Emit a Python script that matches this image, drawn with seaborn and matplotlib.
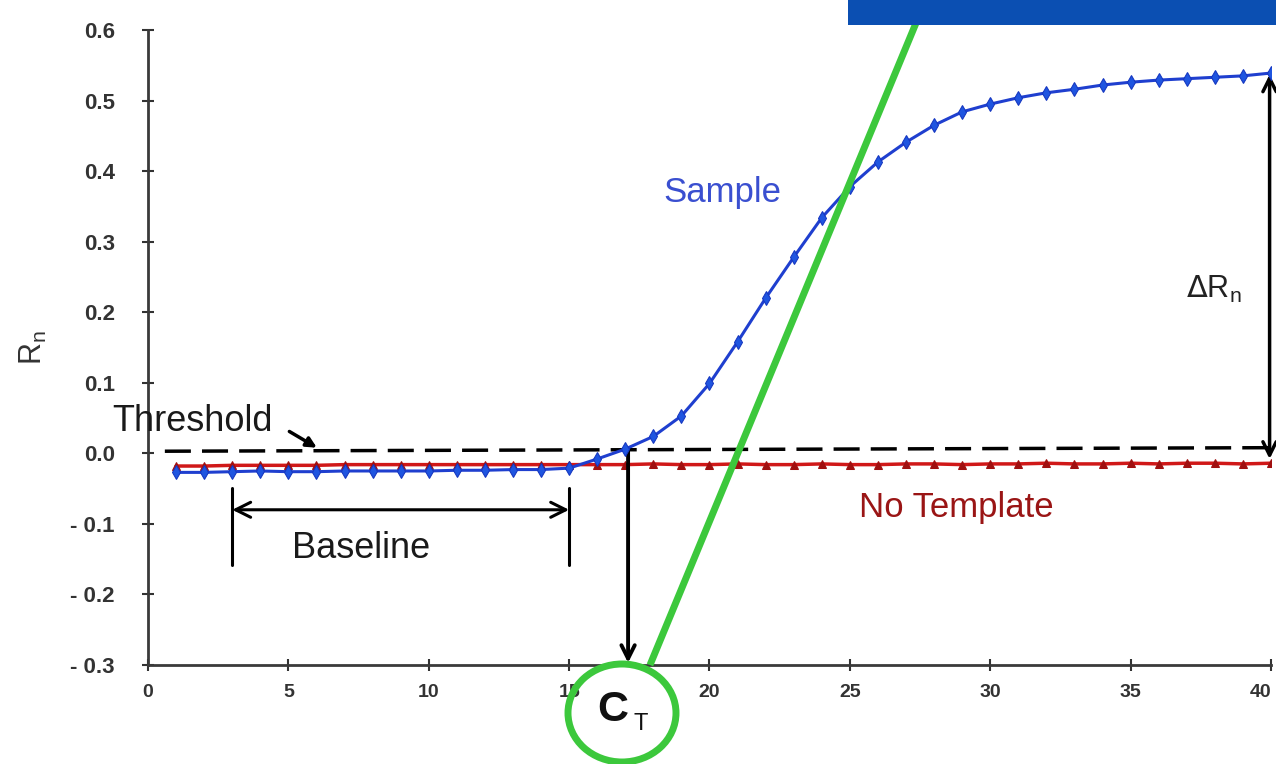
import matplotlib
matplotlib.use("Agg")
import matplotlib.pyplot as plt
import seaborn as sns
import pandas as pd
from matplotlib.patches import Ellipse, Rectangle

# ---------------- data ----------------
cycles = list(range(1, 41))
sample_rn = [-0.027, -0.027, -0.026, -0.025, -0.026, -0.026, -0.025, -0.025, -0.025, -0.025,
             -0.024, -0.024, -0.023, -0.023, -0.021, -0.008, 0.006, 0.024, 0.053, 0.099,
             0.158, 0.220, 0.278, 0.334, 0.378, 0.413, 0.441, 0.465, 0.484, 0.495,
             0.504, 0.511, 0.516, 0.522, 0.526, 0.529, 0.531, 0.533, 0.535, 0.539]
no_template_rn = [-0.018, -0.018, -0.017, -0.017, -0.017, -0.017, -0.016, -0.016, -0.016, -0.016,
                  -0.016, -0.016, -0.016, -0.016, -0.016, -0.016, -0.016, -0.015, -0.016, -0.016,
                  -0.015, -0.016, -0.016, -0.015, -0.016, -0.016, -0.015, -0.015, -0.016, -0.015,
                  -0.015, -0.014, -0.015, -0.015, -0.014, -0.015, -0.014, -0.014, -0.015, -0.014]
threshold_x = [0.6, 40]
threshold_y = [0.003, 0.008]
ct_cycle = 17.1
baseline_start, baseline_end = 3, 15
x_ticks = [0, 5, 10, 15, 20, 25, 30, 35, 40]
x_tick_labels = ["0", "5", "10", "15", "20", "25", "30", "35", "40"]
y_ticks = [-0.3, -0.2, -0.1, 0.0, 0.1, 0.2, 0.3, 0.4, 0.5, 0.6]
y_tick_labels = ["- 0.3", "- 0.2", "- 0.1", "0.0", "0.1", "0.2", "0.3", "0.4", "0.5", "0.6"]

# ---------------- style ----------------
sns.set_theme(style="white")
plt.rcParams["font.family"] = ["Liberation Sans", "DejaVu Sans"]

W, H = 1276, 764
fig = plt.figure(figsize=(W / 100, H / 100), dpi=100)
fig.patch.set_facecolor("white")
ax = fig.add_axes([148 / W, 1 - 665 / H, (1271 - 148) / W, (665 - 30) / H])
ax.set_facecolor("white")

GREEN = "#3cc83c"
BLUE_LINE = "#1f3fcf"
RED_LINE = "#d01818"

df_nt = pd.DataFrame({"cycle": cycles, "rn": no_template_rn})
df_s = pd.DataFrame({"cycle": cycles, "rn": sample_rn})

sns.lineplot(data=df_nt, x="cycle", y="rn", ax=ax, color=RED_LINE, linewidth=2.5,
             marker="^", markersize=5.5, markerfacecolor="#a01010", markeredgecolor="#a01010",
             zorder=3)
sns.lineplot(data=df_s, x="cycle", y="rn", ax=ax, color=BLUE_LINE, linewidth=2.2,
             marker="d", markersize=7, markerfacecolor="#1f55e0", markeredgecolor="#1536c0",
             zorder=4)

# threshold dashed line
ax.plot(threshold_x, threshold_y, color="black", linewidth=2.5, linestyle=(0, (7.5, 3.2)),
        zorder=2)

ax.set_xlim(0, 40)
ax.set_ylim(-0.3, 0.6)
ax.set_xticks(x_ticks)
ax.set_xticklabels(x_tick_labels, fontsize=14, fontweight="bold", color="#333333")
ax.get_xticklabels()[-1].set_horizontalalignment("right")
ax.set_yticks(y_ticks)
ax.set_yticklabels(y_tick_labels, fontsize=16, fontweight="bold", color="#333333")
ax.tick_params(axis="both", direction="inout", length=8, width=1.5, color="#333333",
               left=True, bottom=True)
ax.tick_params(axis="y", pad=20)
ax.tick_params(axis="x", pad=10)
ax.set_xlabel("")
ax.set_ylabel(r"R$_{\mathregular{n}}$", fontsize=22, color="#333333")
ax.yaxis.set_label_coords(-0.088, 0.5)
for s in ["top", "right"]:
    ax.spines[s].set_visible(False)
for s in ["left", "bottom"]:
    ax.spines[s].set_color("#3a3a3a")
    ax.spines[s].set_linewidth(2)

# ---------------- annotations ----------------
# Threshold label + arrow
ax.text(1.6, 0.045, "Threshold", fontsize=26, ha="center", va="center", color="#1a1a1a")
ax.annotate("", xy=(6.1, 0.006), xytext=(4.95, 0.033),
            arrowprops=dict(arrowstyle="-|>,head_length=0.5,head_width=0.25", lw=2.5,
                            color="black"))

# Baseline bracket
ax.plot([baseline_start, baseline_start], [-0.049, -0.158], color="black", lw=2.2)
ax.plot([baseline_end, baseline_end], [-0.049, -0.158], color="black", lw=2.2)
ax.annotate("", xy=(baseline_start, -0.08), xytext=(baseline_end, -0.08),
            arrowprops=dict(arrowstyle="<->,head_length=0.9,head_width=0.45", lw=2.2,
                            color="black", shrinkA=0, shrinkB=0))
ax.text(7.6, -0.135, "Baseline", fontsize=26, ha="center", va="center", color="#1a1a1a")

# Sample and No Template labels
ax.text(20.45, 0.37, "Sample", fontsize=25, ha="center", va="center", color="#3a4fd0")
ax.text(28.8, -0.077, "No Template", fontsize=25, ha="center", va="center", color="#9a1515")

# Ct arrow
ax.annotate("", xy=(ct_cycle, -0.297), xytext=(ct_cycle, 0.004),
            arrowprops=dict(arrowstyle="->,head_length=0.8,head_width=0.4", lw=2.8,
                            color="black", shrinkA=0, shrinkB=0), annotation_clip=False)

# Delta Rn arrow + label
ax.annotate("", xy=(39.95, 0.537), xytext=(39.95, -0.008),
            arrowprops=dict(arrowstyle="<->,head_length=0.8,head_width=0.4", lw=2.5,
                            color="black", shrinkA=0, shrinkB=0), annotation_clip=False)
ax.text(37.95, 0.232, r"$\Delta$R$_{\mathregular{n}}$", fontsize=22, ha="center",
        va="center", color="#222222")

# Green slanted line
ax.plot([17.88, 27.69], [-0.3, 0.642], color=GREEN, lw=5, clip_on=False, zorder=6,
        solid_capstyle="butt")

# Green circle around C_T
fig.add_artist(Ellipse((622 / W, 1 - 713 / H), 108 / W, 98 / H, transform=fig.transFigure,
                       fill=False, edgecolor=GREEN, linewidth=5, zorder=8))
fig.text(613 / W, 1 - 710 / H, "C", fontsize=31, fontweight="bold", ha="center",
         va="center", color="#111111", zorder=9)
fig.text(641 / W, 1 - 724 / H, "T", fontsize=17, ha="center", va="center",
         color="#111111", zorder=9)

# Blue banner top-right
fig.add_artist(Rectangle((848 / W, 1 - 25 / H), (W - 848) / W, 25 / H,
                         transform=fig.transFigure, facecolor="#0b4fb2", edgecolor="none",
                         zorder=10))

fig.savefig("out.png", dpi=100, facecolor="white")
